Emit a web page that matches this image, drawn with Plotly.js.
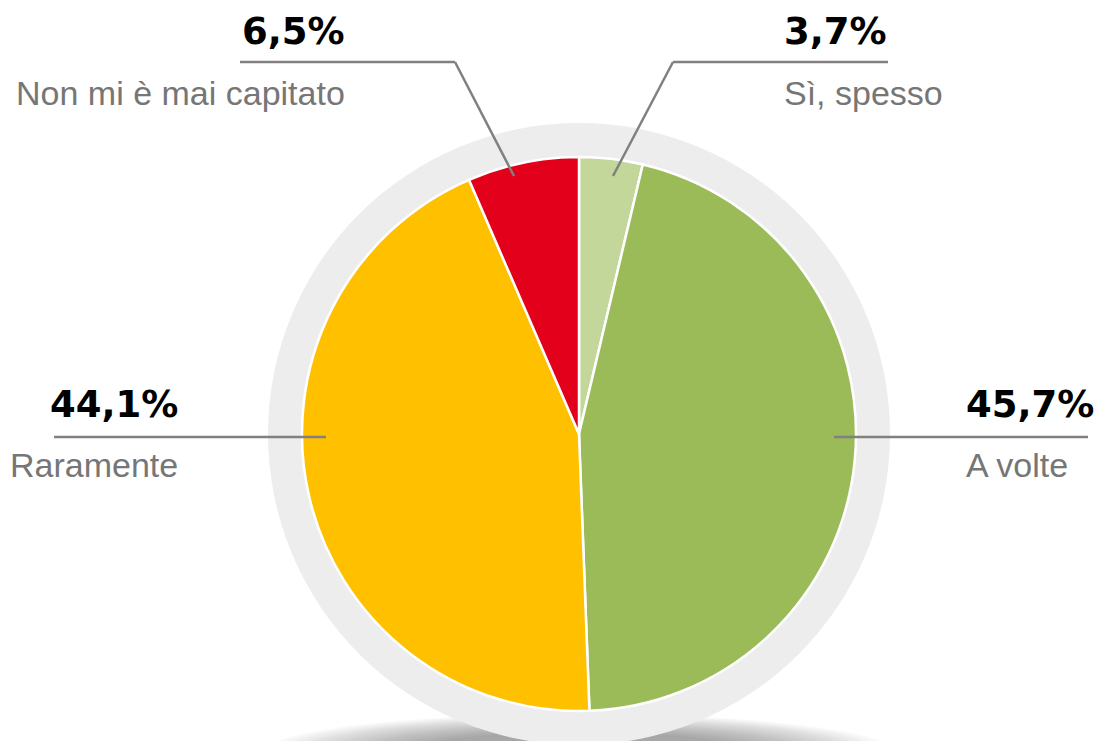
<!DOCTYPE html>
<html>
<head>
<meta charset="utf-8">
<script src="https://cdn.plot.ly/plotly-3.0.1.min.js"></script>
<style>
html,body{margin:0;padding:0;background:#fff;}
#chart{width:1095px;height:741px;}
</style>
</head>
<body>
<div id="chart"></div>
<script>
// Data
var categories = ["Sì, spesso", "A volte", "Raramente", "Non mi è mai capitato"];
var values = [3.7, 45.7, 44.1, 6.5];
var colors = ["#c4d79b", "#9bbb59", "#ffc000", "#e2001a"];

var W = 1095, H = 741;
function px(x){ return x / W; }
function py(y){ return (H - y) / H; }
function pct(v){ return v.toFixed(1).replace('.', ',') + '%'; }

var cx = 579, cy = 434, R = 277, RR = 311;

var trace = {
  type: 'pie',
  labels: categories,
  values: values,
  sort: false,
  direction: 'clockwise',
  rotation: 0,
  textinfo: 'none',
  hoverinfo: 'label+percent',
  marker: { colors: colors, line: { color: '#ffffff', width: 2.5 } },
  domain: { x: [px(cx - R), px(cx + R)], y: [py(cy + R), py(cy - R)] },
  showlegend: false
};

var shapes = [];
// soft shadow under the ring
var N = 18;
for (var i = 0; i < N; i++) {
  var t = i / (N - 1);
  var a = 315 - t * 150, b = 38 - t * 18;
  shapes.push({ type: 'circle', xref: 'paper', yref: 'paper', layer: 'below',
    x0: px(cx - a), x1: px(cx + a), y0: py(752 + b), y1: py(752 - b),
    fillcolor: 'rgba(80,80,80,0.035)', line: { width: 0 } });
}
// grey ring
shapes.push({ type: 'circle', xref: 'paper', yref: 'paper', layer: 'below',
  x0: px(cx - RR), x1: px(cx + RR), y0: py(cy + RR), y1: py(cy - RR),
  fillcolor: '#ededed', line: { width: 0 } });

// leader lines
var lineStyle = { color: '#808080', width: 2.5 };
function seg(x0, y0, x1, y1){
  return { type: 'line', xref: 'paper', yref: 'paper', layer: 'above',
    x0: px(x0), y0: py(y0), x1: px(x1), y1: py(y1), line: lineStyle };
}
shapes.push(seg(240, 62, 455, 62), seg(455, 62, 514, 176));   // Non mi è mai capitato
shapes.push(seg(888, 62, 673, 62), seg(673, 62, 613, 176));   // Sì, spesso
shapes.push(seg(54, 437, 326, 437));                          // Raramente
shapes.push(seg(834, 437, 1088, 437));                        // A volte

var boldFont = { family: 'DejaVu Sans', size: 37, color: '#000000', weight: 'bold' };
var greyFont = { family: 'Liberation Sans, Arial, sans-serif', size: 34, color: '#767676' };

function ann(text, x, y, anchor, font){
  return { xref: 'paper', yref: 'paper', x: px(x), y: py(y), xanchor: anchor, yanchor: 'middle',
    text: text, showarrow: false, font: font, borderpad: 0 };
}
// order: Sì spesso, A volte, Raramente, Non mi è mai capitato
var annPos = [
  { x: 783, yb: 32, yg: 93, anchor: 'left' },
  { x: 965, yb: 404, yg: 465, anchor: 'left' },
  { x: 179, yb: 404, yg: 465, anchor: 'right' },
  { x: 346, yb: 32, yg: 93, anchor: 'right' }
];
var annotations = [];
for (var k = 0; k < categories.length; k++) {
  var p = annPos[k];
  annotations.push(ann('<b>' + pct(values[k]) + '</b>', p.x, p.yb, p.anchor, boldFont));
  annotations.push(ann(categories[k], p.x, p.yg, p.anchor, greyFont));
}

var layout = {
  width: W, height: H,
  margin: { l: 0, r: 0, t: 0, b: 0 },
  paper_bgcolor: '#ffffff',
  plot_bgcolor: '#ffffff',
  shapes: shapes,
  annotations: annotations,
  showlegend: false
};

Plotly.newPlot('chart', [trace], layout, { displayModeBar: false, staticPlot: true });
</script>
</body>
</html>
